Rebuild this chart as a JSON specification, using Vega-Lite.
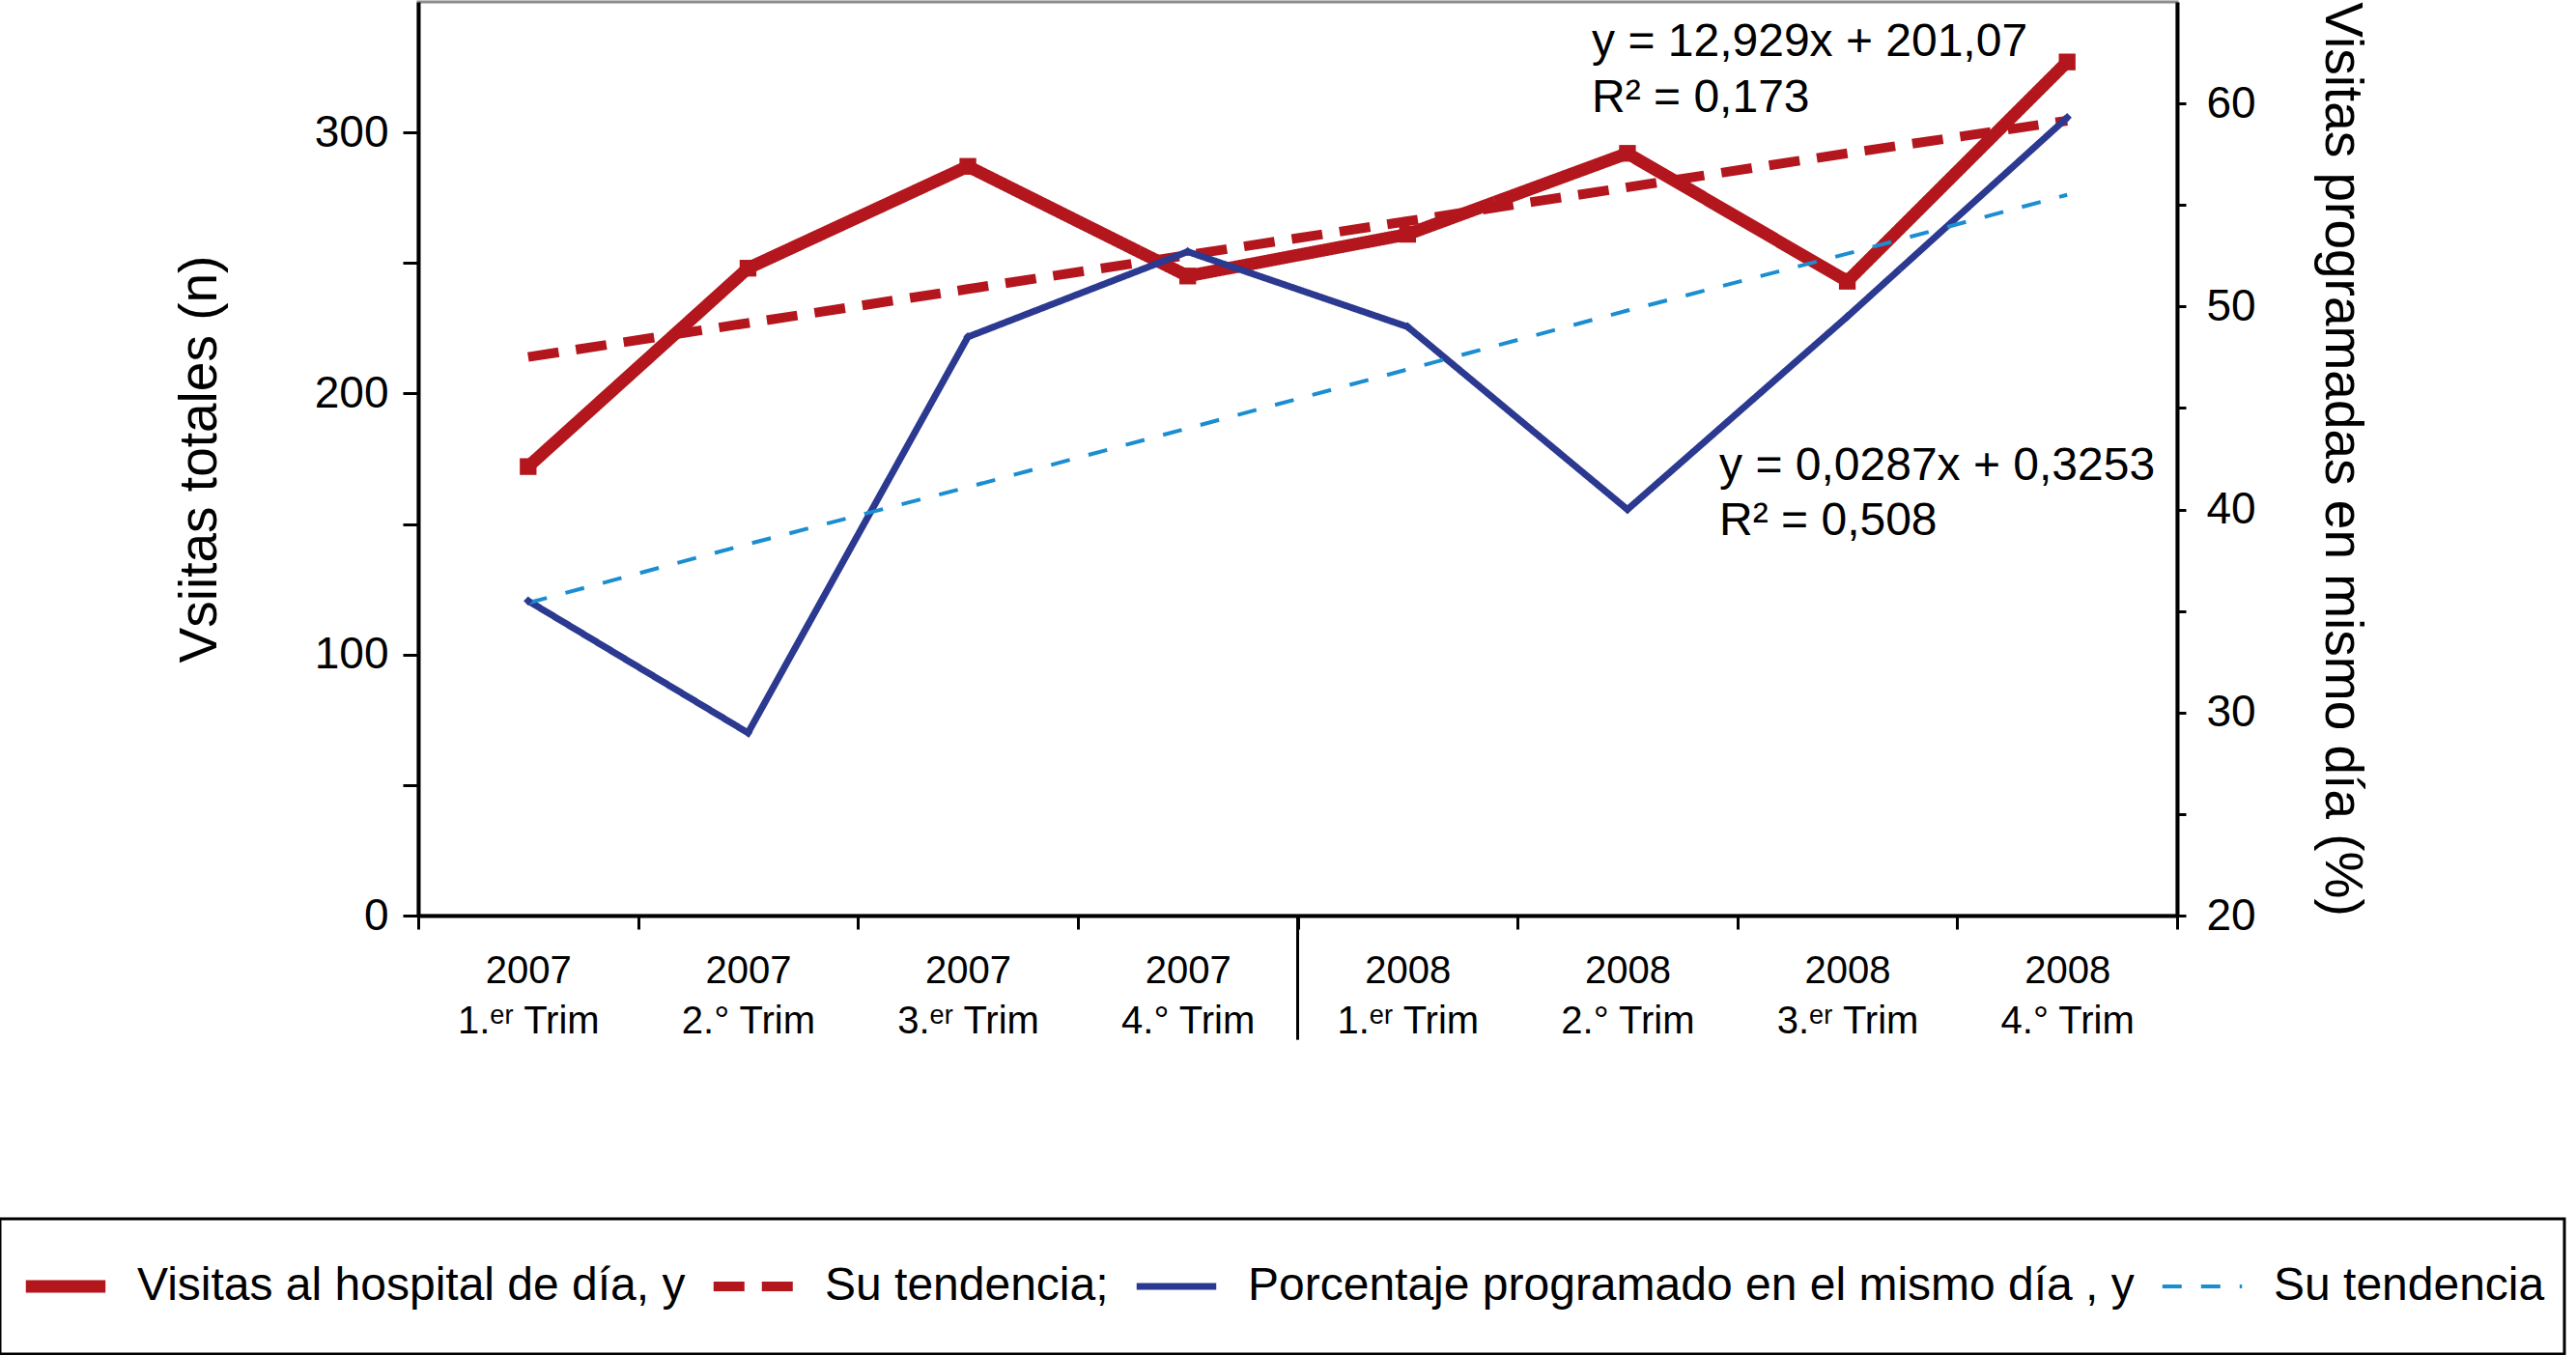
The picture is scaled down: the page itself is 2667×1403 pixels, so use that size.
{
  "$schema": "https://vega.github.io/schema/vega-lite/v6.json",
  "autosize": "none",
  "width": 1821,
  "height": 946,
  "padding": {"left": 433, "top": 2, "right": 413, "bottom": 455},
  "background": "white",
  "config": {
    "font": "Liberation Sans",
    "view": {"stroke": "#8c8c8c", "strokeWidth": 3},
    "axis": {"grid": false, "domainColor": "black", "tickColor": "black", "labelColor": "black", "titleColor": "black", "labelFont": "Liberation Sans", "titleFont": "Liberation Sans", "titleFontWeight": "normal"},
    "legend": {"strokeWidth": 3}
  },
  "datasets": {
    "series": [
      {"q": "2007|1.ᵉʳ Trim", "serie": "Visitas al hospital de día, y", "v": 172},
      {"q": "2007|2.° Trim", "serie": "Visitas al hospital de día, y", "v": 248},
      {"q": "2007|3.ᵉʳ Trim", "serie": "Visitas al hospital de día, y", "v": 287},
      {"q": "2007|4.° Trim", "serie": "Visitas al hospital de día, y", "v": 245},
      {"q": "2008|1.ᵉʳ Trim", "serie": "Visitas al hospital de día, y", "v": 261},
      {"q": "2008|2.° Trim", "serie": "Visitas al hospital de día, y", "v": 292},
      {"q": "2008|3.ᵉʳ Trim", "serie": "Visitas al hospital de día, y", "v": 243},
      {"q": "2008|4.° Trim", "serie": "Visitas al hospital de día, y", "v": 327},
      {"q": "2007|1.ᵉʳ Trim", "serie": "Su tendencia;", "v": 214},
      {"q": "2007|2.° Trim", "serie": "Su tendencia;", "v": 227},
      {"q": "2007|3.ᵉʳ Trim", "serie": "Su tendencia;", "v": 240},
      {"q": "2007|4.° Trim", "serie": "Su tendencia;", "v": 253},
      {"q": "2008|1.ᵉʳ Trim", "serie": "Su tendencia;", "v": 266},
      {"q": "2008|2.° Trim", "serie": "Su tendencia;", "v": 279},
      {"q": "2008|3.ᵉʳ Trim", "serie": "Su tendencia;", "v": 292},
      {"q": "2008|4.° Trim", "serie": "Su tendencia;", "v": 304.5},
      {"q": "2007|1.ᵉʳ Trim", "serie": "Porcentaje programado en el mismo día , y", "v": 35.5},
      {"q": "2007|2.° Trim", "serie": "Porcentaje programado en el mismo día , y", "v": 29.0},
      {"q": "2007|3.ᵉʳ Trim", "serie": "Porcentaje programado en el mismo día , y", "v": 48.5},
      {"q": "2007|4.° Trim", "serie": "Porcentaje programado en el mismo día , y", "v": 52.7},
      {"q": "2008|1.ᵉʳ Trim", "serie": "Porcentaje programado en el mismo día , y", "v": 49.0},
      {"q": "2008|2.° Trim", "serie": "Porcentaje programado en el mismo día , y", "v": 40.0},
      {"q": "2008|3.ᵉʳ Trim", "serie": "Porcentaje programado en el mismo día , y", "v": 49.5},
      {"q": "2008|4.° Trim", "serie": "Porcentaje programado en el mismo día , y", "v": 59.3},
      {"q": "2007|1.ᵉʳ Trim", "serie": "Su tendencia", "v": 35.4},
      {"q": "2007|2.° Trim", "serie": "Su tendencia", "v": 38.3},
      {"q": "2007|3.ᵉʳ Trim", "serie": "Su tendencia", "v": 41.1},
      {"q": "2007|4.° Trim", "serie": "Su tendencia", "v": 44.0},
      {"q": "2008|1.ᵉʳ Trim", "serie": "Su tendencia", "v": 46.9},
      {"q": "2008|2.° Trim", "serie": "Su tendencia", "v": 49.8},
      {"q": "2008|3.ᵉʳ Trim", "serie": "Su tendencia", "v": 52.6},
      {"q": "2008|4.° Trim", "serie": "Su tendencia", "v": 55.5}
    ],
    "notas_rojo": [
      {"q": "2008|2.° Trim", "v": 329.3, "t": "y = 12,929x + 201,07"},
      {"q": "2008|2.° Trim", "v": 307.9, "t": "R² = 0,173"}
    ],
    "notas_azul": [
      {"q": "2008|2.° Trim", "v": 41.45, "t": "y = 0,0287x + 0,3253"},
      {"q": "2008|2.° Trim", "v": 38.75, "t": "R² = 0,508"}
    ],
    "divisor": [
      {"q": "2008|1.ᵉʳ Trim", "v": 0, "v2": -47.6}
    ]
  },
  "layer": [
    {
      "layer": [
        {
          "data": {"name": "series"},
          "transform": [{"filter": "datum.serie === 'Visitas al hospital de día, y' || datum.serie === 'Su tendencia;'"}],
          "mark": {"type": "line", "strokeCap": "butt"},
          "encoding": {
            "x": {
              "field": "q", "type": "ordinal", "bandPosition": 0.5,
              "scale": {"type": "band", "paddingInner": 0, "paddingOuter": 0,
                "domain": ["2007|1.ᵉʳ Trim", "2007|2.° Trim", "2007|3.ᵉʳ Trim", "2007|4.° Trim", "2008|1.ᵉʳ Trim", "2008|2.° Trim", "2008|3.ᵉʳ Trim", "2008|4.° Trim"]},
              "axis": {
                "title": null, "labelAngle": 0, "labelExpr": "isString(datum.value) ? split(datum.value, '|') : ''",
                "labelFontSize": 40, "labelLineHeight": 52, "labelBaseline": "top", "labelPadding": 23,
                "tickSize": 14, "tickWidth": 3, "tickBand": "extent", "domainWidth": 4
              }
            },
            "y": {
              "field": "v", "type": "quantitative",
              "scale": {"domain": [0, 350], "nice": false, "zero": false},
              "axis": {
                "title": "Vsiitas totales (n)", "orient": "left",
                "values": [0, 50, 100, 150, 200, 250, 300],
                "labelExpr": "datum.value % 100 === 0 ? datum.label : ''",
                "labelFontSize": 46, "labelPadding": 15, "tickSize": 16, "tickWidth": 3, "domainWidth": 4,
                "titleFontSize": 55, "titlePadding": 90
              }
            },
            "color": {
              "field": "serie", "type": "nominal",
              "scale": {
                "domain": ["Visitas al hospital de día, y", "Su tendencia;", "Porcentaje programado en el mismo día , y", "Su tendencia"],
                "range": ["#B3161D", "#B3161D", "#2B3990", "#1A8ED1"]
              },
              "legend": {
                "title": null, "orient": "none", "legendX": -433, "legendY": 1260,
                "direction": "horizontal", "columns": 4, "padding": 20,
                "strokeColor": "black", "symbolType": "stroke", "symbolSize": 6800,
                "labelFontSize": 48, "labelLimit": 2000, "labelColor": "black",
                "columnPadding": 22, "labelOffset": 26, "clipHeight": 100
              }
            },
            "strokeDash": {
              "field": "serie", "type": "nominal",
              "scale": {
                "domain": ["Visitas al hospital de día, y", "Su tendencia;", "Porcentaje programado en el mismo día , y", "Su tendencia"],
                "range": [[1, 0], [32, 18], [1, 0], [20, 20]]
              },
              "legend": {"title": null}
            },
            "strokeWidth": {
              "field": "serie", "type": "nominal",
              "scale": {
                "domain": ["Visitas al hospital de día, y", "Su tendencia;", "Porcentaje programado en el mismo día , y", "Su tendencia"],
                "range": [13, 4, 4, 5]
              },
              "legend": {"title": null}
            }
          }
        },
        {
          "data": {"name": "series"},
          "transform": [{"filter": "datum.serie === 'Visitas al hospital de día, y'"}],
          "mark": {"type": "point", "shape": "square", "filled": true, "size": 300, "color": "#B3161D", "opacity": 1},
          "encoding": {
            "x": {"field": "q", "type": "ordinal", "bandPosition": 0.5},
            "y": {"field": "v", "type": "quantitative"}
          }
        },
        {
          "data": {"name": "divisor"},
          "mark": {"type": "rule", "color": "black", "strokeWidth": 3},
          "encoding": {
            "x": {"field": "q", "type": "ordinal", "bandPosition": 0},
            "y": {"field": "v", "type": "quantitative"},
            "y2": {"field": "v2"}
          }
        },
        {
          "data": {"name": "notas_rojo"},
          "mark": {"type": "text", "align": "left", "baseline": "alphabetic", "fontSize": 48, "color": "black"},
          "encoding": {
            "x": {"field": "q", "type": "ordinal", "bandPosition": 0.338},
            "y": {"field": "v", "type": "quantitative"},
            "text": {"field": "t"}
          }
        }
      ]
    },
    {
      "layer": [
        {
          "data": {"name": "series"},
          "transform": [{"filter": "datum.serie === 'Porcentaje programado en el mismo día , y' || datum.serie === 'Su tendencia'"}],
          "mark": {"type": "line", "strokeCap": "butt"},
          "encoding": {
            "x": {"field": "q", "type": "ordinal", "bandPosition": 0.5},
            "y": {
              "field": "v", "type": "quantitative",
              "scale": {"domain": [20, 65], "nice": false, "zero": false},
              "axis": {
                "title": "Visitas programadas en mismo día (%)", "orient": "right",
                "values": [20, 25, 30, 35, 40, 45, 50, 55, 60],
                "labelExpr": "datum.value % 10 === 0 ? datum.label : ''",
                "labelFontSize": 46, "labelPadding": 21, "tickSize": 9, "tickWidth": 3, "domainWidth": 4,
                "titleFontSize": 55, "titlePadding": 60
              }
            },
            "color": {"field": "serie", "type": "nominal"},
            "strokeDash": {"field": "serie", "type": "nominal"},
            "strokeWidth": {"field": "serie", "type": "nominal"}
          }
        },
        {
          "data": {"name": "series"},
          "transform": [{"filter": "datum.serie === 'Porcentaje programado en el mismo día , y'"}],
          "mark": {"type": "point", "shape": "diamond", "filled": true, "size": 90, "color": "#2B3990", "opacity": 1},
          "encoding": {
            "x": {"field": "q", "type": "ordinal", "bandPosition": 0.5},
            "y": {"field": "v", "type": "quantitative"}
          }
        },
        {
          "data": {"name": "notas_azul"},
          "mark": {"type": "text", "align": "left", "baseline": "alphabetic", "fontSize": 48, "color": "black"},
          "encoding": {
            "x": {"field": "q", "type": "ordinal", "bandPosition": 0.918},
            "y": {"field": "v", "type": "quantitative"},
            "text": {"field": "t"}
          }
        }
      ]
    }
  ],
  "resolve": {"scale": {"y": "independent"}}
}
